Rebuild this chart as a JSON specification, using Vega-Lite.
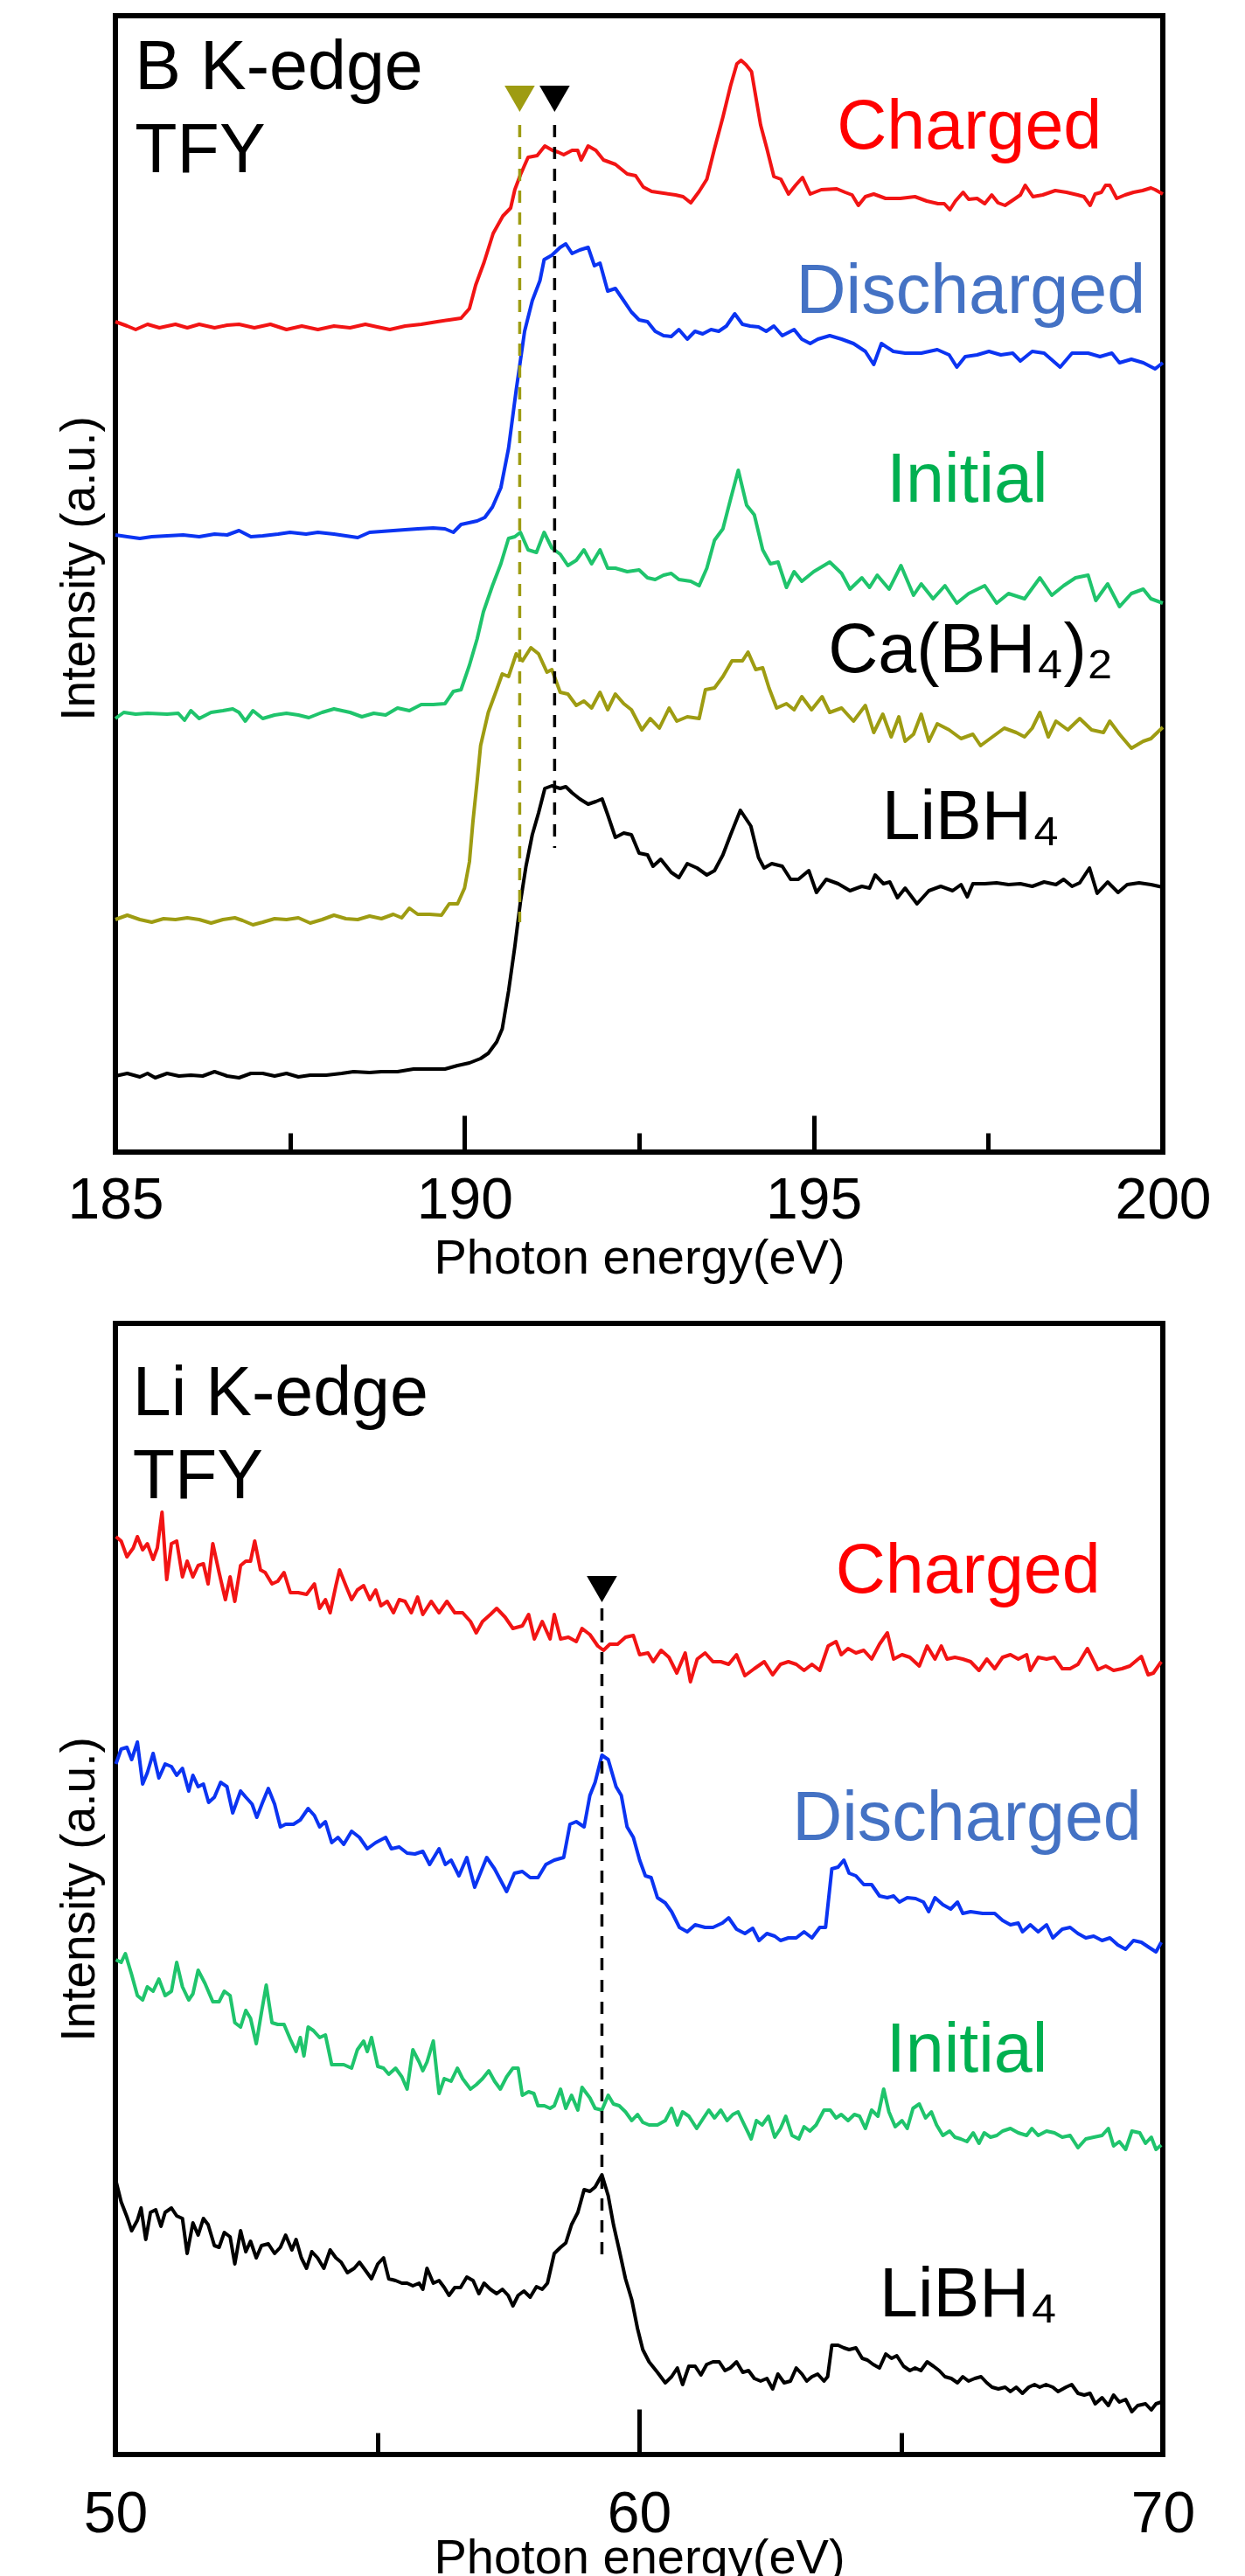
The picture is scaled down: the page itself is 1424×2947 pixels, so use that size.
{
"$schema": "https://vega.github.io/schema/vega-lite/v6.json",
"background": "white",
"padding": {"left": 60, "top": 15, "right": 5, "bottom": 0},
"spacing": 41,
"config": {
  "font": "Liberation Sans",
  "view": {"stroke": "#000000", "strokeWidth": 6},
  "axis": {"grid": false, "domain": false, "labelFont": "Liberation Sans", "titleFont": "Liberation Sans", "labelColor": "#000000", "titleColor": "#000000", "tickColor": "#000000", "titleFontWeight": "normal"}
},
"datasets": {
  "bLines": [
{"s":"C","x":185.00,"y":950},{"s":"C","x":185.17,"y":945},{"s":"C","x":185.29,"y":941},{"s":"C","x":185.46,"y":947},{"s":"C","x":185.63,"y":943},{"s":"C","x":185.86,"y":947},{"s":"C","x":186.03,"y":943},{"s":"C","x":186.20,"y":947},{"s":"C","x":186.42,"y":943},{"s":"C","x":186.60,"y":946},{"s":"C","x":186.77,"y":947},{"s":"C","x":186.99,"y":943},{"s":"C","x":187.22,"y":947},{"s":"C","x":187.45,"y":941},{"s":"C","x":187.67,"y":945},{"s":"C","x":187.90,"y":941},{"s":"C","x":188.13,"y":945},{"s":"C","x":188.36,"y":943},{"s":"C","x":188.58,"y":947},{"s":"C","x":188.75,"y":944},{"s":"C","x":188.93,"y":941},{"s":"C","x":189.15,"y":945},{"s":"C","x":189.38,"y":947},{"s":"C","x":189.61,"y":950},{"s":"C","x":189.78,"y":952},{"s":"C","x":189.95,"y":954},{"s":"C","x":190.07,"y":965},{"s":"C","x":190.16,"y":992},{"s":"C","x":190.28,"y":1018},{"s":"C","x":190.41,"y":1051},{"s":"C","x":190.55,"y":1071},{"s":"C","x":190.66,"y":1080},{"s":"C","x":190.72,"y":1101},{"s":"C","x":190.80,"y":1118},{"s":"C","x":190.91,"y":1138},{"s":"C","x":191.04,"y":1140},{"s":"C","x":191.15,"y":1151},{"s":"C","x":191.26,"y":1146},{"s":"C","x":191.34,"y":1144},{"s":"C","x":191.42,"y":1141},{"s":"C","x":191.54,"y":1146},{"s":"C","x":191.62,"y":1146},{"s":"C","x":191.67,"y":1135},{"s":"C","x":191.77,"y":1151},{"s":"C","x":191.88,"y":1146},{"s":"C","x":191.99,"y":1135},{"s":"C","x":192.16,"y":1130},{"s":"C","x":192.33,"y":1119},{"s":"C","x":192.45,"y":1117},{"s":"C","x":192.56,"y":1104},{"s":"C","x":192.68,"y":1099},{"s":"C","x":192.85,"y":1097},{"s":"C","x":193.02,"y":1095},{"s":"C","x":193.13,"y":1093},{"s":"C","x":193.24,"y":1086},{"s":"C","x":193.36,"y":1099},{"s":"C","x":193.47,"y":1113},{"s":"C","x":193.58,"y":1148},{"s":"C","x":193.70,"y":1184},{"s":"C","x":193.81,"y":1220},{"s":"C","x":193.90,"y":1245},{"s":"C","x":193.96,"y":1249},{"s":"C","x":194.03,"y":1244},{"s":"C","x":194.11,"y":1236},{"s":"C","x":194.24,"y":1175},{"s":"C","x":194.33,"y":1148},{"s":"C","x":194.43,"y":1116},{"s":"C","x":194.53,"y":1113},{"s":"C","x":194.64,"y":1096},{"s":"C","x":194.74,"y":1106},{"s":"C","x":194.84,"y":1115},{"s":"C","x":194.95,"y":1096},{"s":"C","x":195.11,"y":1101},{"s":"C","x":195.33,"y":1102},{"s":"C","x":195.45,"y":1098},{"s":"C","x":195.55,"y":1095},{"s":"C","x":195.64,"y":1083},{"s":"C","x":195.74,"y":1093},{"s":"C","x":195.86,"y":1096},{"s":"C","x":196.03,"y":1091},{"s":"C","x":196.24,"y":1091},{"s":"C","x":196.45,"y":1093},{"s":"C","x":196.62,"y":1088},{"s":"C","x":196.78,"y":1085},{"s":"C","x":196.87,"y":1085},{"s":"C","x":196.95,"y":1078},{"s":"C","x":197.03,"y":1088},{"s":"C","x":197.14,"y":1098},{"s":"C","x":197.22,"y":1090},{"s":"C","x":197.34,"y":1091},{"s":"C","x":197.45,"y":1085},{"s":"C","x":197.55,"y":1095},{"s":"C","x":197.64,"y":1086},{"s":"C","x":197.74,"y":1083},{"s":"C","x":197.87,"y":1090},{"s":"C","x":197.96,"y":1095},{"s":"C","x":198.03,"y":1106},{"s":"C","x":198.14,"y":1093},{"s":"C","x":198.28,"y":1095},{"s":"C","x":198.46,"y":1100},{"s":"C","x":198.62,"y":1098},{"s":"C","x":198.78,"y":1095},{"s":"C","x":198.87,"y":1093},{"s":"C","x":198.96,"y":1083},{"s":"C","x":199.03,"y":1096},{"s":"C","x":199.12,"y":1098},{"s":"C","x":199.18,"y":1106},{"s":"C","x":199.24,"y":1106},{"s":"C","x":199.34,"y":1091},{"s":"C","x":199.46,"y":1095},{"s":"C","x":199.58,"y":1098},{"s":"C","x":199.71,"y":1100},{"s":"C","x":199.83,"y":1103},{"s":"C","x":199.89,"y":1101},{"s":"C","x":200.00,"y":1096},
{"s":"D","x":185.00,"y":706},{"s":"D","x":185.17,"y":704},{"s":"D","x":185.35,"y":702},{"s":"D","x":185.52,"y":704},{"s":"D","x":185.74,"y":705},{"s":"D","x":185.97,"y":706},{"s":"D","x":186.20,"y":704},{"s":"D","x":186.42,"y":707},{"s":"D","x":186.60,"y":706},{"s":"D","x":186.77,"y":711},{"s":"D","x":186.94,"y":704},{"s":"D","x":187.11,"y":705},{"s":"D","x":187.33,"y":707},{"s":"D","x":187.50,"y":709},{"s":"D","x":187.73,"y":707},{"s":"D","x":187.90,"y":709},{"s":"D","x":188.13,"y":707},{"s":"D","x":188.30,"y":705},{"s":"D","x":188.47,"y":703},{"s":"D","x":188.64,"y":709},{"s":"D","x":188.81,"y":710},{"s":"D","x":188.98,"y":711},{"s":"D","x":189.15,"y":712},{"s":"D","x":189.33,"y":713},{"s":"D","x":189.55,"y":714},{"s":"D","x":189.72,"y":713},{"s":"D","x":189.84,"y":709},{"s":"D","x":189.95,"y":718},{"s":"D","x":190.18,"y":722},{"s":"D","x":190.29,"y":726},{"s":"D","x":190.40,"y":738},{"s":"D","x":190.52,"y":760},{"s":"D","x":190.63,"y":805},{"s":"D","x":190.74,"y":872},{"s":"D","x":190.86,"y":939},{"s":"D","x":190.97,"y":974},{"s":"D","x":191.08,"y":997},{"s":"D","x":191.14,"y":1021},{"s":"D","x":191.25,"y":1026},{"s":"D","x":191.37,"y":1035},{"s":"D","x":191.45,"y":1039},{"s":"D","x":191.54,"y":1028},{"s":"D","x":191.65,"y":1032},{"s":"D","x":191.77,"y":1035},{"s":"D","x":191.86,"y":1014},{"s":"D","x":191.94,"y":1017},{"s":"D","x":192.05,"y":985},{"s":"D","x":192.16,"y":988},{"s":"D","x":192.28,"y":974},{"s":"D","x":192.39,"y":961},{"s":"D","x":192.50,"y":952},{"s":"D","x":192.62,"y":950},{"s":"D","x":192.73,"y":939},{"s":"D","x":192.85,"y":934},{"s":"D","x":192.96,"y":933},{"s":"D","x":193.07,"y":941},{"s":"D","x":193.19,"y":930},{"s":"D","x":193.30,"y":939},{"s":"D","x":193.41,"y":936},{"s":"D","x":193.53,"y":941},{"s":"D","x":193.64,"y":939},{"s":"D","x":193.75,"y":945},{"s":"D","x":193.87,"y":959},{"s":"D","x":193.98,"y":947},{"s":"D","x":194.09,"y":945},{"s":"D","x":194.21,"y":944},{"s":"D","x":194.32,"y":939},{"s":"D","x":194.43,"y":945},{"s":"D","x":194.55,"y":934},{"s":"D","x":194.72,"y":941},{"s":"D","x":194.83,"y":930},{"s":"D","x":194.95,"y":925},{"s":"D","x":195.06,"y":930},{"s":"D","x":195.23,"y":934},{"s":"D","x":195.40,"y":930},{"s":"D","x":195.57,"y":925},{"s":"D","x":195.74,"y":916},{"s":"D","x":195.86,"y":901},{"s":"D","x":195.97,"y":925},{"s":"D","x":196.14,"y":916},{"s":"D","x":196.31,"y":914},{"s":"D","x":196.54,"y":914},{"s":"D","x":196.77,"y":918},{"s":"D","x":196.94,"y":912},{"s":"D","x":197.05,"y":898},{"s":"D","x":197.17,"y":910},{"s":"D","x":197.34,"y":912},{"s":"D","x":197.51,"y":916},{"s":"D","x":197.68,"y":912},{"s":"D","x":197.85,"y":914},{"s":"D","x":197.96,"y":905},{"s":"D","x":198.13,"y":916},{"s":"D","x":198.30,"y":914},{"s":"D","x":198.53,"y":898},{"s":"D","x":198.70,"y":914},{"s":"D","x":198.93,"y":914},{"s":"D","x":199.10,"y":910},{"s":"D","x":199.27,"y":914},{"s":"D","x":199.38,"y":903},{"s":"D","x":199.55,"y":907},{"s":"D","x":199.72,"y":903},{"s":"D","x":199.89,"y":896},{"s":"D","x":200.00,"y":903},
{"s":"I","x":185.00,"y":496},{"s":"I","x":185.12,"y":503},{"s":"I","x":185.29,"y":501},{"s":"I","x":185.46,"y":502},{"s":"I","x":185.74,"y":501},{"s":"I","x":185.90,"y":502},{"s":"I","x":185.99,"y":494},{"s":"I","x":186.08,"y":505},{"s":"I","x":186.20,"y":496},{"s":"I","x":186.37,"y":503},{"s":"I","x":186.54,"y":505},{"s":"I","x":186.68,"y":507},{"s":"I","x":186.77,"y":503},{"s":"I","x":186.86,"y":493},{"s":"I","x":186.97,"y":505},{"s":"I","x":187.11,"y":496},{"s":"I","x":187.28,"y":500},{"s":"I","x":187.45,"y":502},{"s":"I","x":187.62,"y":500},{"s":"I","x":187.77,"y":497},{"s":"I","x":187.96,"y":503},{"s":"I","x":188.13,"y":507},{"s":"I","x":188.36,"y":503},{"s":"I","x":188.53,"y":498},{"s":"I","x":188.70,"y":502},{"s":"I","x":188.87,"y":500},{"s":"I","x":189.04,"y":508},{"s":"I","x":189.21,"y":505},{"s":"I","x":189.38,"y":512},{"s":"I","x":189.55,"y":512},{"s":"I","x":189.72,"y":513},{"s":"I","x":189.84,"y":527},{"s":"I","x":189.95,"y":529},{"s":"I","x":190.07,"y":557},{"s":"I","x":190.18,"y":587},{"s":"I","x":190.27,"y":618},{"s":"I","x":190.40,"y":648},{"s":"I","x":190.52,"y":673},{"s":"I","x":190.63,"y":702},{"s":"I","x":190.72,"y":704},{"s":"I","x":190.80,"y":709},{"s":"I","x":190.91,"y":689},{"s":"I","x":191.03,"y":686},{"s":"I","x":191.14,"y":709},{"s":"I","x":191.25,"y":691},{"s":"I","x":191.37,"y":684},{"s":"I","x":191.48,"y":671},{"s":"I","x":191.60,"y":677},{"s":"I","x":191.71,"y":689},{"s":"I","x":191.82,"y":673},{"s":"I","x":191.94,"y":689},{"s":"I","x":192.05,"y":668},{"s":"I","x":192.16,"y":668},{"s":"I","x":192.33,"y":664},{"s":"I","x":192.50,"y":666},{"s":"I","x":192.62,"y":657},{"s":"I","x":192.73,"y":655},{"s":"I","x":192.85,"y":660},{"s":"I","x":192.96,"y":662},{"s":"I","x":193.07,"y":655},{"s":"I","x":193.24,"y":653},{"s":"I","x":193.36,"y":648},{"s":"I","x":193.47,"y":668},{"s":"I","x":193.58,"y":700},{"s":"I","x":193.70,"y":713},{"s":"I","x":193.81,"y":747},{"s":"I","x":193.92,"y":780},{"s":"I","x":194.04,"y":740},{"s":"I","x":194.15,"y":729},{"s":"I","x":194.27,"y":689},{"s":"I","x":194.38,"y":673},{"s":"I","x":194.49,"y":675},{"s":"I","x":194.61,"y":646},{"s":"I","x":194.72,"y":664},{"s":"I","x":194.83,"y":653},{"s":"I","x":195.00,"y":664},{"s":"I","x":195.23,"y":675},{"s":"I","x":195.40,"y":662},{"s":"I","x":195.52,"y":644},{"s":"I","x":195.69,"y":657},{"s":"I","x":195.80,"y":646},{"s":"I","x":195.91,"y":660},{"s":"I","x":196.08,"y":644},{"s":"I","x":196.25,"y":671},{"s":"I","x":196.43,"y":637},{"s":"I","x":196.54,"y":650},{"s":"I","x":196.71,"y":633},{"s":"I","x":196.88,"y":648},{"s":"I","x":197.05,"y":628},{"s":"I","x":197.22,"y":639},{"s":"I","x":197.45,"y":648},{"s":"I","x":197.62,"y":628},{"s":"I","x":197.79,"y":639},{"s":"I","x":198.02,"y":633},{"s":"I","x":198.24,"y":657},{"s":"I","x":198.41,"y":637},{"s":"I","x":198.58,"y":648},{"s":"I","x":198.75,"y":657},{"s":"I","x":198.93,"y":660},{"s":"I","x":199.04,"y":631},{"s":"I","x":199.21,"y":650},{"s":"I","x":199.38,"y":624},{"s":"I","x":199.55,"y":639},{"s":"I","x":199.72,"y":644},{"s":"I","x":199.83,"y":633},{"s":"I","x":200.00,"y":628},
{"s":"Ca","x":185.00,"y":266},{"s":"Ca","x":185.17,"y":271},{"s":"Ca","x":185.35,"y":266},{"s":"Ca","x":185.52,"y":263},{"s":"Ca","x":185.69,"y":267},{"s":"Ca","x":185.86,"y":266},{"s":"Ca","x":186.03,"y":268},{"s":"Ca","x":186.20,"y":266},{"s":"Ca","x":186.37,"y":262},{"s":"Ca","x":186.54,"y":266},{"s":"Ca","x":186.71,"y":268},{"s":"Ca","x":186.82,"y":265},{"s":"Ca","x":186.97,"y":260},{"s":"Ca","x":187.11,"y":263},{"s":"Ca","x":187.28,"y":267},{"s":"Ca","x":187.45,"y":266},{"s":"Ca","x":187.62,"y":268},{"s":"Ca","x":187.79,"y":262},{"s":"Ca","x":187.96,"y":266},{"s":"Ca","x":188.13,"y":271},{"s":"Ca","x":188.30,"y":267},{"s":"Ca","x":188.47,"y":266},{"s":"Ca","x":188.64,"y":270},{"s":"Ca","x":188.81,"y":267},{"s":"Ca","x":188.98,"y":272},{"s":"Ca","x":189.10,"y":268},{"s":"Ca","x":189.21,"y":279},{"s":"Ca","x":189.33,"y":272},{"s":"Ca","x":189.50,"y":272},{"s":"Ca","x":189.67,"y":271},{"s":"Ca","x":189.78,"y":284},{"s":"Ca","x":189.90,"y":284},{"s":"Ca","x":190.00,"y":302},{"s":"Ca","x":190.07,"y":332},{"s":"Ca","x":190.12,"y":378},{"s":"Ca","x":190.18,"y":424},{"s":"Ca","x":190.23,"y":465},{"s":"Ca","x":190.34,"y":503},{"s":"Ca","x":190.46,"y":529},{"s":"Ca","x":190.54,"y":547},{"s":"Ca","x":190.63,"y":544},{"s":"Ca","x":190.74,"y":570},{"s":"Ca","x":190.83,"y":562},{"s":"Ca","x":190.95,"y":577},{"s":"Ca","x":191.06,"y":570},{"s":"Ca","x":191.18,"y":549},{"s":"Ca","x":191.25,"y":552},{"s":"Ca","x":191.37,"y":526},{"s":"Ca","x":191.48,"y":524},{"s":"Ca","x":191.60,"y":511},{"s":"Ca","x":191.71,"y":516},{"s":"Ca","x":191.82,"y":508},{"s":"Ca","x":191.94,"y":526},{"s":"Ca","x":192.05,"y":506},{"s":"Ca","x":192.16,"y":524},{"s":"Ca","x":192.28,"y":513},{"s":"Ca","x":192.39,"y":506},{"s":"Ca","x":192.54,"y":483},{"s":"Ca","x":192.66,"y":496},{"s":"Ca","x":192.79,"y":485},{"s":"Ca","x":192.93,"y":508},{"s":"Ca","x":193.04,"y":493},{"s":"Ca","x":193.19,"y":498},{"s":"Ca","x":193.36,"y":496},{"s":"Ca","x":193.45,"y":529},{"s":"Ca","x":193.58,"y":531},{"s":"Ca","x":193.70,"y":544},{"s":"Ca","x":193.83,"y":562},{"s":"Ca","x":193.98,"y":562},{"s":"Ca","x":194.06,"y":572},{"s":"Ca","x":194.17,"y":552},{"s":"Ca","x":194.27,"y":554},{"s":"Ca","x":194.36,"y":531},{"s":"Ca","x":194.47,"y":508},{"s":"Ca","x":194.61,"y":513},{"s":"Ca","x":194.72,"y":506},{"s":"Ca","x":194.83,"y":521},{"s":"Ca","x":194.97,"y":506},{"s":"Ca","x":195.12,"y":521},{"s":"Ca","x":195.23,"y":503},{"s":"Ca","x":195.40,"y":508},{"s":"Ca","x":195.57,"y":493},{"s":"Ca","x":195.74,"y":511},{"s":"Ca","x":195.86,"y":480},{"s":"Ca","x":195.99,"y":501},{"s":"Ca","x":196.11,"y":475},{"s":"Ca","x":196.22,"y":498},{"s":"Ca","x":196.31,"y":470},{"s":"Ca","x":196.43,"y":478},{"s":"Ca","x":196.54,"y":501},{"s":"Ca","x":196.65,"y":470},{"s":"Ca","x":196.77,"y":490},{"s":"Ca","x":196.94,"y":483},{"s":"Ca","x":197.11,"y":473},{"s":"Ca","x":197.28,"y":478},{"s":"Ca","x":197.39,"y":465},{"s":"Ca","x":197.56,"y":475},{"s":"Ca","x":197.73,"y":485},{"s":"Ca","x":197.90,"y":480},{"s":"Ca","x":198.02,"y":475},{"s":"Ca","x":198.13,"y":485},{"s":"Ca","x":198.24,"y":503},{"s":"Ca","x":198.36,"y":475},{"s":"Ca","x":198.47,"y":493},{"s":"Ca","x":198.64,"y":483},{"s":"Ca","x":198.81,"y":496},{"s":"Ca","x":198.98,"y":483},{"s":"Ca","x":199.15,"y":480},{"s":"Ca","x":199.24,"y":493},{"s":"Ca","x":199.38,"y":478},{"s":"Ca","x":199.55,"y":462},{"s":"Ca","x":199.72,"y":470},{"s":"Ca","x":199.83,"y":473},{"s":"Ca","x":200.00,"y":486},
{"s":"Li","x":185.00,"y":87},{"s":"Li","x":185.17,"y":90},{"s":"Li","x":185.35,"y":86},{"s":"Li","x":185.46,"y":90},{"s":"Li","x":185.57,"y":85},{"s":"Li","x":185.74,"y":90},{"s":"Li","x":185.91,"y":87},{"s":"Li","x":186.08,"y":88},{"s":"Li","x":186.25,"y":87},{"s":"Li","x":186.42,"y":92},{"s":"Li","x":186.60,"y":87},{"s":"Li","x":186.77,"y":85},{"s":"Li","x":186.94,"y":90},{"s":"Li","x":187.11,"y":90},{"s":"Li","x":187.28,"y":87},{"s":"Li","x":187.45,"y":90},{"s":"Li","x":187.62,"y":86},{"s":"Li","x":187.79,"y":88},{"s":"Li","x":188.02,"y":88},{"s":"Li","x":188.24,"y":90},{"s":"Li","x":188.41,"y":92},{"s":"Li","x":188.64,"y":91},{"s":"Li","x":188.81,"y":92},{"s":"Li","x":189.04,"y":92},{"s":"Li","x":189.27,"y":95},{"s":"Li","x":189.50,"y":95},{"s":"Li","x":189.72,"y":95},{"s":"Li","x":189.90,"y":99},{"s":"Li","x":190.07,"y":102},{"s":"Li","x":190.23,"y":107},{"s":"Li","x":190.34,"y":113},{"s":"Li","x":190.46,"y":126},{"s":"Li","x":190.54,"y":141},{"s":"Li","x":190.63,"y":184},{"s":"Li","x":190.72,"y":235},{"s":"Li","x":190.80,"y":286},{"s":"Li","x":190.88,"y":327},{"s":"Li","x":190.97,"y":363},{"s":"Li","x":191.06,"y":388},{"s":"Li","x":191.15,"y":416},{"s":"Li","x":191.25,"y":419},{"s":"Li","x":191.37,"y":416},{"s":"Li","x":191.45,"y":418},{"s":"Li","x":191.54,"y":411},{"s":"Li","x":191.65,"y":404},{"s":"Li","x":191.77,"y":398},{"s":"Li","x":191.88,"y":401},{"s":"Li","x":191.97,"y":404},{"s":"Li","x":192.05,"y":386},{"s":"Li","x":192.16,"y":360},{"s":"Li","x":192.28,"y":365},{"s":"Li","x":192.39,"y":363},{"s":"Li","x":192.50,"y":342},{"s":"Li","x":192.62,"y":340},{"s":"Li","x":192.70,"y":327},{"s":"Li","x":192.81,"y":335},{"s":"Li","x":192.96,"y":320},{"s":"Li","x":193.07,"y":314},{"s":"Li","x":193.19,"y":330},{"s":"Li","x":193.33,"y":325},{"s":"Li","x":193.47,"y":317},{"s":"Li","x":193.58,"y":322},{"s":"Li","x":193.70,"y":340},{"s":"Li","x":193.81,"y":363},{"s":"Li","x":193.95,"y":391},{"s":"Li","x":194.10,"y":373},{"s":"Li","x":194.21,"y":337},{"s":"Li","x":194.29,"y":325},{"s":"Li","x":194.40,"y":330},{"s":"Li","x":194.55,"y":327},{"s":"Li","x":194.67,"y":312},{"s":"Li","x":194.78,"y":312},{"s":"Li","x":194.93,"y":322},{"s":"Li","x":195.04,"y":297},{"s":"Li","x":195.18,"y":312},{"s":"Li","x":195.35,"y":307},{"s":"Li","x":195.52,"y":299},{"s":"Li","x":195.69,"y":304},{"s":"Li","x":195.80,"y":302},{"s":"Li","x":195.88,"y":317},{"s":"Li","x":196.00,"y":307},{"s":"Li","x":196.09,"y":309},{"s":"Li","x":196.20,"y":291},{"s":"Li","x":196.31,"y":302},{"s":"Li","x":196.48,"y":284},{"s":"Li","x":196.65,"y":299},{"s":"Li","x":196.82,"y":304},{"s":"Li","x":196.99,"y":299},{"s":"Li","x":197.11,"y":306},{"s":"Li","x":197.20,"y":292},{"s":"Li","x":197.28,"y":307},{"s":"Li","x":197.45,"y":307},{"s":"Li","x":197.62,"y":308},{"s":"Li","x":197.79,"y":306},{"s":"Li","x":197.96,"y":307},{"s":"Li","x":198.13,"y":304},{"s":"Li","x":198.30,"y":309},{"s":"Li","x":198.47,"y":306},{"s":"Li","x":198.58,"y":312},{"s":"Li","x":198.70,"y":304},{"s":"Li","x":198.81,"y":308},{"s":"Li","x":198.95,"y":325},{"s":"Li","x":199.06,"y":296},{"s":"Li","x":199.21,"y":309},{"s":"Li","x":199.36,"y":297},{"s":"Li","x":199.49,"y":306},{"s":"Li","x":199.66,"y":308},{"s":"Li","x":199.83,"y":306},{"s":"Li","x":200.00,"y":303}
  ],
  "lLines": [
{"s":"C","x":50.01,"y":1050},{"s":"C","x":50.11,"y":1045},{"s":"C","x":50.22,"y":1027},{"s":"C","x":50.34,"y":1037},{"s":"C","x":50.42,"y":1050},{"s":"C","x":50.52,"y":1035},{"s":"C","x":50.61,"y":1042},{"s":"C","x":50.72,"y":1024},{"s":"C","x":50.80,"y":1037},{"s":"C","x":50.89,"y":1078},{"s":"C","x":50.98,"y":1001},{"s":"C","x":51.07,"y":1042},{"s":"C","x":51.17,"y":1045},{"s":"C","x":51.28,"y":1004},{"s":"C","x":51.37,"y":1022},{"s":"C","x":51.48,"y":1004},{"s":"C","x":51.58,"y":1017},{"s":"C","x":51.68,"y":1019},{"s":"C","x":51.77,"y":996},{"s":"C","x":51.86,"y":1042},{"s":"C","x":51.98,"y":1009},{"s":"C","x":52.10,"y":978},{"s":"C","x":52.19,"y":1004},{"s":"C","x":52.28,"y":976},{"s":"C","x":52.39,"y":1017},{"s":"C","x":52.49,"y":1022},{"s":"C","x":52.58,"y":1022},{"s":"C","x":52.66,"y":1045},{"s":"C","x":52.77,"y":1012},{"s":"C","x":52.86,"y":1009},{"s":"C","x":52.99,"y":996},{"s":"C","x":53.10,"y":999},{"s":"C","x":53.22,"y":1009},{"s":"C","x":53.34,"y":986},{"s":"C","x":53.49,"y":986},{"s":"C","x":53.65,"y":984},{"s":"C","x":53.80,"y":996},{"s":"C","x":53.90,"y":968},{"s":"C","x":54.01,"y":978},{"s":"C","x":54.10,"y":963},{"s":"C","x":54.21,"y":994},{"s":"C","x":54.28,"y":1012},{"s":"C","x":54.40,"y":994},{"s":"C","x":54.51,"y":978},{"s":"C","x":54.62,"y":989},{"s":"C","x":54.74,"y":994},{"s":"C","x":54.86,"y":978},{"s":"C","x":54.97,"y":989},{"s":"C","x":55.07,"y":971},{"s":"C","x":55.19,"y":976},{"s":"C","x":55.31,"y":963},{"s":"C","x":55.42,"y":978},{"s":"C","x":55.53,"y":976},{"s":"C","x":55.65,"y":963},{"s":"C","x":55.77,"y":981},{"s":"C","x":55.87,"y":961},{"s":"C","x":56.03,"y":976},{"s":"C","x":56.18,"y":963},{"s":"C","x":56.33,"y":976},{"s":"C","x":56.48,"y":963},{"s":"C","x":56.63,"y":963},{"s":"C","x":56.78,"y":953},{"s":"C","x":56.89,"y":940},{"s":"C","x":57.01,"y":953},{"s":"C","x":57.16,"y":961},{"s":"C","x":57.28,"y":968},{"s":"C","x":57.44,"y":958},{"s":"C","x":57.59,"y":945},{"s":"C","x":57.77,"y":948},{"s":"C","x":57.89,"y":961},{"s":"C","x":58.00,"y":933},{"s":"C","x":58.15,"y":953},{"s":"C","x":58.30,"y":933},{"s":"C","x":58.38,"y":961},{"s":"C","x":58.50,"y":933},{"s":"C","x":58.65,"y":935},{"s":"C","x":58.80,"y":930},{"s":"C","x":58.91,"y":945},{"s":"C","x":59.06,"y":938},{"s":"C","x":59.21,"y":925},{"s":"C","x":59.32,"y":920},{"s":"C","x":59.44,"y":927},{"s":"C","x":59.59,"y":927},{"s":"C","x":59.74,"y":935},{"s":"C","x":59.89,"y":937},{"s":"C","x":60.01,"y":915},{"s":"C","x":60.17,"y":917},{"s":"C","x":60.27,"y":907},{"s":"C","x":60.42,"y":920},{"s":"C","x":60.57,"y":912},{"s":"C","x":60.72,"y":894},{"s":"C","x":60.88,"y":917},{"s":"C","x":60.98,"y":884},{"s":"C","x":61.11,"y":910},{"s":"C","x":61.26,"y":917},{"s":"C","x":61.41,"y":907},{"s":"C","x":61.56,"y":907},{"s":"C","x":61.71,"y":904},{"s":"C","x":61.86,"y":915},{"s":"C","x":62.02,"y":891},{"s":"C","x":62.20,"y":899},{"s":"C","x":62.39,"y":907},{"s":"C","x":62.55,"y":892},{"s":"C","x":62.70,"y":904},{"s":"C","x":62.85,"y":907},{"s":"C","x":63.00,"y":904},{"s":"C","x":63.15,"y":897},{"s":"C","x":63.30,"y":904},{"s":"C","x":63.45,"y":897},{"s":"C","x":63.61,"y":925},{"s":"C","x":63.76,"y":930},{"s":"C","x":63.86,"y":915},{"s":"C","x":63.99,"y":922},{"s":"C","x":64.14,"y":917},{"s":"C","x":64.29,"y":920},{"s":"C","x":64.44,"y":910},{"s":"C","x":64.59,"y":927},{"s":"C","x":64.74,"y":940},{"s":"C","x":64.86,"y":910},{"s":"C","x":65.02,"y":915},{"s":"C","x":65.17,"y":912},{"s":"C","x":65.35,"y":902},{"s":"C","x":65.50,"y":925},{"s":"C","x":65.65,"y":910},{"s":"C","x":65.77,"y":925},{"s":"C","x":65.88,"y":910},{"s":"C","x":66.03,"y":912},{"s":"C","x":66.18,"y":910},{"s":"C","x":66.33,"y":907},{"s":"C","x":66.49,"y":897},{"s":"C","x":66.64,"y":910},{"s":"C","x":66.79,"y":899},{"s":"C","x":66.94,"y":912},{"s":"C","x":67.09,"y":915},{"s":"C","x":67.24,"y":910},{"s":"C","x":67.40,"y":915},{"s":"C","x":67.47,"y":897},{"s":"C","x":67.62,"y":912},{"s":"C","x":67.78,"y":910},{"s":"C","x":67.93,"y":912},{"s":"C","x":68.08,"y":899},{"s":"C","x":68.23,"y":899},{"s":"C","x":68.38,"y":904},{"s":"C","x":68.56,"y":922},{"s":"C","x":68.76,"y":898},{"s":"C","x":68.91,"y":902},{"s":"C","x":69.06,"y":897},{"s":"C","x":69.22,"y":899},{"s":"C","x":69.37,"y":902},{"s":"C","x":69.59,"y":913},{"s":"C","x":69.72,"y":892},{"s":"C","x":69.82,"y":894},{"s":"C","x":69.97,"y":907},
{"s":"D","x":50.01,"y":790},{"s":"D","x":50.11,"y":807},{"s":"D","x":50.22,"y":809},{"s":"D","x":50.31,"y":795},{"s":"D","x":50.42,"y":815},{"s":"D","x":50.52,"y":767},{"s":"D","x":50.61,"y":780},{"s":"D","x":50.72,"y":802},{"s":"D","x":50.83,"y":774},{"s":"D","x":50.95,"y":790},{"s":"D","x":51.07,"y":787},{"s":"D","x":51.17,"y":777},{"s":"D","x":51.28,"y":785},{"s":"D","x":51.40,"y":759},{"s":"D","x":51.48,"y":777},{"s":"D","x":51.58,"y":764},{"s":"D","x":51.68,"y":767},{"s":"D","x":51.78,"y":746},{"s":"D","x":51.89,"y":752},{"s":"D","x":52.01,"y":769},{"s":"D","x":52.13,"y":764},{"s":"D","x":52.24,"y":734},{"s":"D","x":52.39,"y":759},{"s":"D","x":52.49,"y":752},{"s":"D","x":52.61,"y":744},{"s":"D","x":52.70,"y":729},{"s":"D","x":52.81,"y":746},{"s":"D","x":52.92,"y":762},{"s":"D","x":53.04,"y":744},{"s":"D","x":53.15,"y":718},{"s":"D","x":53.25,"y":721},{"s":"D","x":53.40,"y":721},{"s":"D","x":53.53,"y":726},{"s":"D","x":53.68,"y":739},{"s":"D","x":53.80,"y":731},{"s":"D","x":53.90,"y":718},{"s":"D","x":54.01,"y":724},{"s":"D","x":54.13,"y":700},{"s":"D","x":54.25,"y":706},{"s":"D","x":54.36,"y":698},{"s":"D","x":54.51,"y":713},{"s":"D","x":54.66,"y":706},{"s":"D","x":54.81,"y":693},{"s":"D","x":54.97,"y":700},{"s":"D","x":55.16,"y":706},{"s":"D","x":55.27,"y":693},{"s":"D","x":55.42,"y":695},{"s":"D","x":55.57,"y":688},{"s":"D","x":55.72,"y":687},{"s":"D","x":55.87,"y":690},{"s":"D","x":56.00,"y":675},{"s":"D","x":56.18,"y":693},{"s":"D","x":56.30,"y":675},{"s":"D","x":56.41,"y":680},{"s":"D","x":56.56,"y":662},{"s":"D","x":56.71,"y":683},{"s":"D","x":56.86,"y":649},{"s":"D","x":57.09,"y":683},{"s":"D","x":57.24,"y":670},{"s":"D","x":57.47,"y":644},{"s":"D","x":57.62,"y":665},{"s":"D","x":57.77,"y":667},{"s":"D","x":57.92,"y":660},{"s":"D","x":58.07,"y":660},{"s":"D","x":58.22,"y":675},{"s":"D","x":58.38,"y":680},{"s":"D","x":58.56,"y":683},{"s":"D","x":58.68,"y":721},{"s":"D","x":58.80,"y":724},{"s":"D","x":58.95,"y":718},{"s":"D","x":59.06,"y":754},{"s":"D","x":59.16,"y":769},{"s":"D","x":59.29,"y":800},{"s":"D","x":59.41,"y":795},{"s":"D","x":59.56,"y":764},{"s":"D","x":59.66,"y":754},{"s":"D","x":59.77,"y":718},{"s":"D","x":59.89,"y":706},{"s":"D","x":60.01,"y":680},{"s":"D","x":60.12,"y":662},{"s":"D","x":60.23,"y":660},{"s":"D","x":60.35,"y":637},{"s":"D","x":60.50,"y":631},{"s":"D","x":60.62,"y":621},{"s":"D","x":60.77,"y":603},{"s":"D","x":60.92,"y":598},{"s":"D","x":61.07,"y":606},{"s":"D","x":61.26,"y":603},{"s":"D","x":61.41,"y":603},{"s":"D","x":61.59,"y":608},{"s":"D","x":61.71,"y":614},{"s":"D","x":61.86,"y":601},{"s":"D","x":62.02,"y":596},{"s":"D","x":62.17,"y":602},{"s":"D","x":62.29,"y":588},{"s":"D","x":62.44,"y":596},{"s":"D","x":62.59,"y":593},{"s":"D","x":62.70,"y":588},{"s":"D","x":62.85,"y":591},{"s":"D","x":63.00,"y":591},{"s":"D","x":63.15,"y":598},{"s":"D","x":63.30,"y":591},{"s":"D","x":63.45,"y":603},{"s":"D","x":63.56,"y":603},{"s":"D","x":63.68,"y":670},{"s":"D","x":63.80,"y":672},{"s":"D","x":63.91,"y":680},{"s":"D","x":64.01,"y":665},{"s":"D","x":64.14,"y":662},{"s":"D","x":64.29,"y":652},{"s":"D","x":64.44,"y":652},{"s":"D","x":64.59,"y":639},{"s":"D","x":64.74,"y":637},{"s":"D","x":64.86,"y":639},{"s":"D","x":64.97,"y":632},{"s":"D","x":65.12,"y":637},{"s":"D","x":65.28,"y":636},{"s":"D","x":65.43,"y":632},{"s":"D","x":65.53,"y":621},{"s":"D","x":65.65,"y":637},{"s":"D","x":65.80,"y":629},{"s":"D","x":65.95,"y":624},{"s":"D","x":66.08,"y":632},{"s":"D","x":66.18,"y":619},{"s":"D","x":66.33,"y":621},{"s":"D","x":66.56,"y":619},{"s":"D","x":66.79,"y":619},{"s":"D","x":66.94,"y":611},{"s":"D","x":67.09,"y":606},{"s":"D","x":67.24,"y":608},{"s":"D","x":67.32,"y":598},{"s":"D","x":67.47,"y":606},{"s":"D","x":67.62,"y":598},{"s":"D","x":67.78,"y":606},{"s":"D","x":67.90,"y":591},{"s":"D","x":68.08,"y":601},{"s":"D","x":68.23,"y":603},{"s":"D","x":68.38,"y":596},{"s":"D","x":68.53,"y":591},{"s":"D","x":68.68,"y":593},{"s":"D","x":68.84,"y":588},{"s":"D","x":68.99,"y":591},{"s":"D","x":69.14,"y":583},{"s":"D","x":69.29,"y":578},{"s":"D","x":69.44,"y":588},{"s":"D","x":69.59,"y":586},{"s":"D","x":69.74,"y":580},{"s":"D","x":69.87,"y":575},{"s":"D","x":69.97,"y":586},
{"s":"I","x":50.01,"y":566},{"s":"I","x":50.11,"y":563},{"s":"I","x":50.19,"y":573},{"s":"I","x":50.31,"y":549},{"s":"I","x":50.42,"y":525},{"s":"I","x":50.52,"y":520},{"s":"I","x":50.61,"y":535},{"s":"I","x":50.72,"y":530},{"s":"I","x":50.83,"y":544},{"s":"I","x":50.95,"y":525},{"s":"I","x":51.07,"y":530},{"s":"I","x":51.17,"y":563},{"s":"I","x":51.28,"y":535},{"s":"I","x":51.40,"y":520},{"s":"I","x":51.48,"y":527},{"s":"I","x":51.58,"y":554},{"s":"I","x":51.71,"y":539},{"s":"I","x":51.86,"y":518},{"s":"I","x":51.98,"y":518},{"s":"I","x":52.08,"y":530},{"s":"I","x":52.19,"y":525},{"s":"I","x":52.28,"y":494},{"s":"I","x":52.39,"y":489},{"s":"I","x":52.49,"y":508},{"s":"I","x":52.58,"y":499},{"s":"I","x":52.69,"y":470},{"s":"I","x":52.79,"y":506},{"s":"I","x":52.88,"y":537},{"s":"I","x":52.99,"y":494},{"s":"I","x":53.10,"y":492},{"s":"I","x":53.22,"y":492},{"s":"I","x":53.34,"y":475},{"s":"I","x":53.45,"y":461},{"s":"I","x":53.53,"y":477},{"s":"I","x":53.60,"y":456},{"s":"I","x":53.68,"y":489},{"s":"I","x":53.78,"y":485},{"s":"I","x":53.90,"y":477},{"s":"I","x":54.01,"y":480},{"s":"I","x":54.13,"y":446},{"s":"I","x":54.25,"y":446},{"s":"I","x":54.36,"y":446},{"s":"I","x":54.51,"y":442},{"s":"I","x":54.62,"y":463},{"s":"I","x":54.74,"y":473},{"s":"I","x":54.81,"y":461},{"s":"I","x":54.89,"y":477},{"s":"I","x":55.01,"y":444},{"s":"I","x":55.12,"y":442},{"s":"I","x":55.22,"y":435},{"s":"I","x":55.35,"y":442},{"s":"I","x":55.47,"y":432},{"s":"I","x":55.57,"y":418},{"s":"I","x":55.68,"y":463},{"s":"I","x":55.80,"y":449},{"s":"I","x":55.87,"y":439},{"s":"I","x":55.95,"y":449},{"s":"I","x":56.07,"y":473},{"s":"I","x":56.18,"y":413},{"s":"I","x":56.28,"y":430},{"s":"I","x":56.41,"y":427},{"s":"I","x":56.53,"y":442},{"s":"I","x":56.63,"y":430},{"s":"I","x":56.78,"y":418},{"s":"I","x":56.89,"y":423},{"s":"I","x":57.01,"y":430},{"s":"I","x":57.13,"y":439},{"s":"I","x":57.24,"y":427},{"s":"I","x":57.35,"y":418},{"s":"I","x":57.47,"y":432},{"s":"I","x":57.59,"y":442},{"s":"I","x":57.69,"y":442},{"s":"I","x":57.77,"y":411},{"s":"I","x":57.89,"y":415},{"s":"I","x":57.99,"y":413},{"s":"I","x":58.07,"y":399},{"s":"I","x":58.19,"y":399},{"s":"I","x":58.30,"y":396},{"s":"I","x":58.38,"y":399},{"s":"I","x":58.50,"y":418},{"s":"I","x":58.60,"y":396},{"s":"I","x":58.71,"y":411},{"s":"I","x":58.83,"y":394},{"s":"I","x":58.91,"y":420},{"s":"I","x":59.06,"y":408},{"s":"I","x":59.16,"y":396},{"s":"I","x":59.29,"y":394},{"s":"I","x":59.41,"y":411},{"s":"I","x":59.51,"y":401},{"s":"I","x":59.62,"y":399},{"s":"I","x":59.74,"y":392},{"s":"I","x":59.86,"y":382},{"s":"I","x":59.97,"y":389},{"s":"I","x":60.07,"y":380},{"s":"I","x":60.19,"y":377},{"s":"I","x":60.35,"y":377},{"s":"I","x":60.50,"y":382},{"s":"I","x":60.62,"y":396},{"s":"I","x":60.73,"y":377},{"s":"I","x":60.83,"y":392},{"s":"I","x":60.95,"y":387},{"s":"I","x":61.10,"y":373},{"s":"I","x":61.23,"y":385},{"s":"I","x":61.33,"y":394},{"s":"I","x":61.44,"y":385},{"s":"I","x":61.56,"y":394},{"s":"I","x":61.68,"y":382},{"s":"I","x":61.79,"y":389},{"s":"I","x":61.89,"y":392},{"s":"I","x":62.01,"y":377},{"s":"I","x":62.14,"y":361},{"s":"I","x":62.24,"y":382},{"s":"I","x":62.35,"y":377},{"s":"I","x":62.47,"y":387},{"s":"I","x":62.59,"y":363},{"s":"I","x":62.70,"y":373},{"s":"I","x":62.80,"y":387},{"s":"I","x":62.92,"y":365},{"s":"I","x":63.05,"y":361},{"s":"I","x":63.15,"y":375},{"s":"I","x":63.26,"y":370},{"s":"I","x":63.38,"y":377},{"s":"I","x":63.53,"y":394},{"s":"I","x":63.65,"y":394},{"s":"I","x":63.76,"y":385},{"s":"I","x":63.86,"y":389},{"s":"I","x":63.99,"y":382},{"s":"I","x":64.11,"y":389},{"s":"I","x":64.21,"y":387},{"s":"I","x":64.32,"y":373},{"s":"I","x":64.44,"y":394},{"s":"I","x":64.56,"y":387},{"s":"I","x":64.67,"y":418},{"s":"I","x":64.77,"y":392},{"s":"I","x":64.89,"y":375},{"s":"I","x":65.02,"y":382},{"s":"I","x":65.12,"y":373},{"s":"I","x":65.23,"y":396},{"s":"I","x":65.35,"y":401},{"s":"I","x":65.47,"y":385},{"s":"I","x":65.58,"y":392},{"s":"I","x":65.68,"y":377},{"s":"I","x":65.80,"y":365},{"s":"I","x":65.93,"y":370},{"s":"I","x":66.03,"y":363},{"s":"I","x":66.14,"y":361},{"s":"I","x":66.26,"y":358},{"s":"I","x":66.38,"y":368},{"s":"I","x":66.49,"y":356},{"s":"I","x":66.59,"y":368},{"s":"I","x":66.71,"y":363},{"s":"I","x":66.83,"y":365},{"s":"I","x":66.94,"y":370},{"s":"I","x":67.09,"y":373},{"s":"I","x":67.24,"y":368},{"s":"I","x":67.40,"y":365},{"s":"I","x":67.50,"y":373},{"s":"I","x":67.62,"y":365},{"s":"I","x":67.78,"y":370},{"s":"I","x":67.93,"y":368},{"s":"I","x":68.08,"y":363},{"s":"I","x":68.23,"y":365},{"s":"I","x":68.38,"y":351},{"s":"I","x":68.53,"y":361},{"s":"I","x":68.68,"y":363},{"s":"I","x":68.84,"y":365},{"s":"I","x":68.96,"y":373},{"s":"I","x":69.06,"y":353},{"s":"I","x":69.17,"y":358},{"s":"I","x":69.29,"y":349},{"s":"I","x":69.41,"y":370},{"s":"I","x":69.56,"y":368},{"s":"I","x":69.67,"y":356},{"s":"I","x":69.78,"y":363},{"s":"I","x":69.87,"y":349},{"s":"I","x":69.97,"y":354},
{"s":"Li","x":50.01,"y":313},{"s":"Li","x":50.11,"y":289},{"s":"Li","x":50.22,"y":272},{"s":"Li","x":50.31,"y":256},{"s":"Li","x":50.42,"y":268},{"s":"Li","x":50.49,"y":282},{"s":"Li","x":50.58,"y":246},{"s":"Li","x":50.67,"y":277},{"s":"Li","x":50.77,"y":280},{"s":"Li","x":50.87,"y":261},{"s":"Li","x":50.95,"y":277},{"s":"Li","x":51.07,"y":282},{"s":"Li","x":51.17,"y":273},{"s":"Li","x":51.28,"y":270},{"s":"Li","x":51.37,"y":230},{"s":"Li","x":51.48,"y":265},{"s":"Li","x":51.58,"y":251},{"s":"Li","x":51.68,"y":270},{"s":"Li","x":51.77,"y":263},{"s":"Li","x":51.89,"y":239},{"s":"Li","x":51.98,"y":237},{"s":"Li","x":52.08,"y":254},{"s":"Li","x":52.19,"y":249},{"s":"Li","x":52.28,"y":218},{"s":"Li","x":52.39,"y":256},{"s":"Li","x":52.49,"y":232},{"s":"Li","x":52.58,"y":244},{"s":"Li","x":52.69,"y":225},{"s":"Li","x":52.79,"y":239},{"s":"Li","x":52.92,"y":241},{"s":"Li","x":53.04,"y":230},{"s":"Li","x":53.15,"y":237},{"s":"Li","x":53.25,"y":251},{"s":"Li","x":53.37,"y":234},{"s":"Li","x":53.45,"y":246},{"s":"Li","x":53.55,"y":225},{"s":"Li","x":53.65,"y":213},{"s":"Li","x":53.75,"y":232},{"s":"Li","x":53.86,"y":225},{"s":"Li","x":53.98,"y":213},{"s":"Li","x":54.10,"y":234},{"s":"Li","x":54.21,"y":225},{"s":"Li","x":54.31,"y":220},{"s":"Li","x":54.43,"y":208},{"s":"Li","x":54.56,"y":213},{"s":"Li","x":54.66,"y":220},{"s":"Li","x":54.77,"y":211},{"s":"Li","x":54.89,"y":201},{"s":"Li","x":55.01,"y":218},{"s":"Li","x":55.12,"y":225},{"s":"Li","x":55.22,"y":201},{"s":"Li","x":55.35,"y":199},{"s":"Li","x":55.47,"y":196},{"s":"Li","x":55.57,"y":196},{"s":"Li","x":55.68,"y":193},{"s":"Li","x":55.80,"y":196},{"s":"Li","x":55.87,"y":189},{"s":"Li","x":55.95,"y":213},{"s":"Li","x":56.07,"y":196},{"s":"Li","x":56.18,"y":199},{"s":"Li","x":56.28,"y":191},{"s":"Li","x":56.37,"y":182},{"s":"Li","x":56.48,"y":191},{"s":"Li","x":56.59,"y":191},{"s":"Li","x":56.71,"y":203},{"s":"Li","x":56.83,"y":199},{"s":"Li","x":56.94,"y":184},{"s":"Li","x":57.04,"y":196},{"s":"Li","x":57.16,"y":189},{"s":"Li","x":57.28,"y":184},{"s":"Li","x":57.39,"y":189},{"s":"Li","x":57.50,"y":182},{"s":"Li","x":57.59,"y":170},{"s":"Li","x":57.69,"y":182},{"s":"Li","x":57.80,"y":187},{"s":"Li","x":57.92,"y":180},{"s":"Li","x":58.04,"y":192},{"s":"Li","x":58.15,"y":189},{"s":"Li","x":58.25,"y":196},{"s":"Li","x":58.38,"y":230},{"s":"Li","x":58.50,"y":237},{"s":"Li","x":58.60,"y":242},{"s":"Li","x":58.71,"y":263},{"s":"Li","x":58.83,"y":277},{"s":"Li","x":58.95,"y":303},{"s":"Li","x":59.06,"y":301},{"s":"Li","x":59.16,"y":306},{"s":"Li","x":59.29,"y":320},{"s":"Li","x":59.41,"y":296},{"s":"Li","x":59.51,"y":263},{"s":"Li","x":59.62,"y":234},{"s":"Li","x":59.74,"y":201},{"s":"Li","x":59.86,"y":177},{"s":"Li","x":59.97,"y":144},{"s":"Li","x":60.07,"y":120},{"s":"Li","x":60.19,"y":106},{"s":"Li","x":60.35,"y":94},{"s":"Li","x":60.50,"y":82},{"s":"Li","x":60.62,"y":89},{"s":"Li","x":60.73,"y":99},{"s":"Li","x":60.83,"y":80},{"s":"Li","x":60.95,"y":101},{"s":"Li","x":61.07,"y":101},{"s":"Li","x":61.18,"y":91},{"s":"Li","x":61.29,"y":103},{"s":"Li","x":61.41,"y":106},{"s":"Li","x":61.53,"y":106},{"s":"Li","x":61.64,"y":96},{"s":"Li","x":61.74,"y":99},{"s":"Li","x":61.86,"y":106},{"s":"Li","x":61.98,"y":94},{"s":"Li","x":62.09,"y":96},{"s":"Li","x":62.20,"y":87},{"s":"Li","x":62.32,"y":84},{"s":"Li","x":62.44,"y":87},{"s":"Li","x":62.55,"y":75},{"s":"Li","x":62.65,"y":92},{"s":"Li","x":62.77,"y":82},{"s":"Li","x":62.89,"y":84},{"s":"Li","x":63.00,"y":99},{"s":"Li","x":63.11,"y":92},{"s":"Li","x":63.20,"y":84},{"s":"Li","x":63.30,"y":89},{"s":"Li","x":63.41,"y":92},{"s":"Li","x":63.53,"y":84},{"s":"Li","x":63.60,"y":89},{"s":"Li","x":63.68,"y":125},{"s":"Li","x":63.80,"y":125},{"s":"Li","x":63.91,"y":122},{"s":"Li","x":64.01,"y":120},{"s":"Li","x":64.14,"y":122},{"s":"Li","x":64.26,"y":110},{"s":"Li","x":64.36,"y":108},{"s":"Li","x":64.47,"y":103},{"s":"Li","x":64.59,"y":99},{"s":"Li","x":64.71,"y":115},{"s":"Li","x":64.82,"y":110},{"s":"Li","x":64.92,"y":113},{"s":"Li","x":65.05,"y":101},{"s":"Li","x":65.17,"y":96},{"s":"Li","x":65.27,"y":99},{"s":"Li","x":65.38,"y":96},{"s":"Li","x":65.50,"y":106},{"s":"Li","x":65.62,"y":101},{"s":"Li","x":65.73,"y":96},{"s":"Li","x":65.84,"y":89},{"s":"Li","x":65.96,"y":87},{"s":"Li","x":66.08,"y":82},{"s":"Li","x":66.18,"y":89},{"s":"Li","x":66.29,"y":84},{"s":"Li","x":66.41,"y":87},{"s":"Li","x":66.53,"y":89},{"s":"Li","x":66.64,"y":82},{"s":"Li","x":66.74,"y":77},{"s":"Li","x":66.86,"y":75},{"s":"Li","x":66.99,"y":77},{"s":"Li","x":67.09,"y":72},{"s":"Li","x":67.20,"y":77},{"s":"Li","x":67.32,"y":70},{"s":"Li","x":67.44,"y":77},{"s":"Li","x":67.55,"y":80},{"s":"Li","x":67.65,"y":77},{"s":"Li","x":67.77,"y":80},{"s":"Li","x":67.90,"y":77},{"s":"Li","x":68.00,"y":72},{"s":"Li","x":68.15,"y":77},{"s":"Li","x":68.26,"y":80},{"s":"Li","x":68.38,"y":70},{"s":"Li","x":68.50,"y":68},{"s":"Li","x":68.61,"y":70},{"s":"Li","x":68.71,"y":58},{"s":"Li","x":68.84,"y":65},{"s":"Li","x":68.96,"y":56},{"s":"Li","x":69.06,"y":68},{"s":"Li","x":69.17,"y":60},{"s":"Li","x":69.29,"y":63},{"s":"Li","x":69.41,"y":49},{"s":"Li","x":69.52,"y":56},{"s":"Li","x":69.67,"y":58},{"s":"Li","x":69.78,"y":51},{"s":"Li","x":69.87,"y":58},{"s":"Li","x":69.97,"y":60}
  ]
},
"vconcat": [
{
  "width": 1198, "height": 1300,
  "encoding": {
    "y": {"field": "y", "type": "quantitative", "scale": {"domain": [0, 1300], "nice": false, "zero": false},
          "axis": {"title": "Intensity (a.u.)", "labels": false, "ticks": false, "domain": false, "grid": false, "titleFontSize": 55, "titlePadding": 13, "titleY": 632}}
  },
  "layer": [
    {
      "data": {"name": "bLines"},
      "mark": {"type": "line", "strokeWidth": 4, "strokeJoin": "round"},
      "encoding": {
        "x": {"field": "x", "type": "quantitative", "scale": {"domain": [185, 200], "nice": false, "zero": false},
              "axis": {"orient": "bottom", "values": [185, 190, 195, 200], "format": "d", "tickSize": -42, "tickWidth": 5, "labelPadding": 65, "labelFontSize": 66, "labelFlush": false, "labelOverlap": false, "title": "Photon energy(eV)", "titleFontSize": 56, "titlePadding": 6}},
        "color": {"field": "s", "type": "nominal", "scale": {"domain": ["C", "D", "I", "Ca", "Li"], "range": ["#F21414", "#0B34F2", "#1FC46C", "#9E9C12", "#000000"]}, "legend": null}
      }
    },
    {
      "data": {"values": [{"m": "Ca", "x": 190.79, "y": 1175, "y2": 263}, {"m": "Li", "x": 191.29, "y": 1175, "y2": 348}]},
      "mark": {"type": "rule", "strokeWidth": 3.5, "strokeDash": [14, 11]},
      "encoding": {
        "x": {"field": "x", "type": "quantitative", "axis": {"orient": "bottom", "values": [187.5, 192.5, 197.5], "tickSize": -22, "tickWidth": 5, "labels": false, "title": null}},
        "y2": {"field": "y2"},
        "color": {"field": "m", "type": "nominal", "scale": {"domain": ["Ca", "Li"], "range": ["#9E9C12", "#000000"]}, "legend": null}
      }
    },
    {
      "data": {"values": [{"m": "Ca", "x": 190.79, "y": 1205}, {"m": "Li", "x": 191.29, "y": 1205}]},
      "mark": {"type": "point", "shape": "triangle-down", "filled": true, "opacity": 1, "size": 1200, "strokeWidth": 0},
      "encoding": {
        "x": {"field": "x", "type": "quantitative", "axis": null},
        "color": {"field": "m", "type": "nominal", "scale": {"domain": ["Ca", "Li"], "range": ["#9E9C12", "#000000"]}, "legend": null}
      }
    },
    {
      "data": {"values": [{"t": "Charged", "x": 197.23, "y": 1148}, {"t": "Discharged", "x": 197.25, "y": 960}, {"t": "Initial", "x": 197.2, "y": 744}, {"t": "Ca(BH₄)₂", "x": 197.25, "y": 549}, {"t": "LiBH₄", "x": 197.25, "y": 358}]},
      "mark": {"type": "text", "fontSize": 79, "align": "center", "baseline": "alphabetic", "font": "Liberation Sans"},
      "encoding": {
        "x": {"field": "x", "type": "quantitative", "axis": null},
        "text": {"field": "t"},
        "color": {"field": "t", "type": "nominal", "scale": {"domain": ["Charged", "Discharged", "Initial", "Ca(BH₄)₂", "LiBH₄"], "range": ["#FF0000", "#4472C4", "#00B050", "#000000", "#000000"]}, "legend": null}
      }
    },
    {
      "data": {"values": [{"t": "B K-edge", "x": 185.28, "y": 1216}, {"t": "TFY", "x": 185.28, "y": 1121}]},
      "mark": {"type": "text", "fontSize": 79, "align": "left", "baseline": "alphabetic", "font": "Liberation Sans", "color": "#000000"},
      "encoding": {
        "x": {"field": "x", "type": "quantitative", "axis": null},
        "text": {"field": "t"}
      }
    }
  ],
  "resolve": {"axis": {"x": "independent"}, "scale": {"color": "independent"}}
},
{
  "width": 1198, "height": 1294,
  "encoding": {
    "y": {"field": "y", "type": "quantitative", "scale": {"domain": [0, 1294], "nice": false, "zero": false},
          "axis": {"title": "Intensity (a.u.)", "labels": false, "ticks": false, "domain": false, "grid": false, "titleFontSize": 55, "titlePadding": 13}}
  },
  "layer": [
    {
      "data": {"name": "lLines"},
      "mark": {"type": "line", "strokeWidth": 4, "strokeJoin": "round"},
      "encoding": {
        "x": {"field": "x", "type": "quantitative", "scale": {"domain": [50, 70], "nice": false, "zero": false},
              "axis": {"orient": "bottom", "values": [50, 60, 70], "format": "d", "tickSize": -52, "tickWidth": 5, "labelPadding": 88, "labelFontSize": 66, "labelFlush": false, "labelOverlap": false, "title": "Photon energy(eV)", "titleFontSize": 56, "titlePadding": -10}},
        "color": {"field": "s", "type": "nominal", "scale": {"domain": ["C", "D", "I", "Li"], "range": ["#F21414", "#0B34F2", "#1FC46C", "#000000"]}, "legend": null}
      }
    },
    {
      "data": {"values": [{"m": "Li", "x": 59.29, "y": 968, "y2": 220}]},
      "mark": {"type": "rule", "strokeWidth": 3.5, "strokeDash": [14, 11], "color": "#000000"},
      "encoding": {
        "x": {"field": "x", "type": "quantitative", "axis": {"orient": "bottom", "values": [55, 65], "tickSize": -25, "tickWidth": 5, "labels": false, "title": null}},
        "y2": {"field": "y2"}
      }
    },
    {
      "data": {"values": [{"m": "Li", "x": 59.29, "y": 990}]},
      "mark": {"type": "point", "shape": "triangle-down", "filled": true, "opacity": 1, "size": 1200, "strokeWidth": 0, "color": "#000000"},
      "encoding": {
        "x": {"field": "x", "type": "quantitative", "axis": null}
      }
    },
    {
      "data": {"values": [{"t": "Charged", "x": 66.28, "y": 986}, {"t": "Discharged", "x": 66.26, "y": 703}, {"t": "Initial", "x": 66.26, "y": 438}, {"t": "LiBH₄", "x": 66.29, "y": 158}]},
      "mark": {"type": "text", "fontSize": 79, "align": "center", "baseline": "alphabetic", "font": "Liberation Sans"},
      "encoding": {
        "x": {"field": "x", "type": "quantitative", "axis": null},
        "text": {"field": "t"},
        "color": {"field": "t", "type": "nominal", "scale": {"domain": ["Charged", "Discharged", "Initial", "LiBH₄"], "range": ["#FF0000", "#4472C4", "#00B050", "#000000"]}, "legend": null}
      }
    },
    {
      "data": {"values": [{"t": "Li K-edge", "x": 50.33, "y": 1189}, {"t": "TFY", "x": 50.33, "y": 1094}]},
      "mark": {"type": "text", "fontSize": 79, "align": "left", "baseline": "alphabetic", "font": "Liberation Sans", "color": "#000000"},
      "encoding": {
        "x": {"field": "x", "type": "quantitative", "axis": null},
        "text": {"field": "t"}
      }
    }
  ],
  "resolve": {"axis": {"x": "independent"}, "scale": {"color": "independent"}}
}
]
}
